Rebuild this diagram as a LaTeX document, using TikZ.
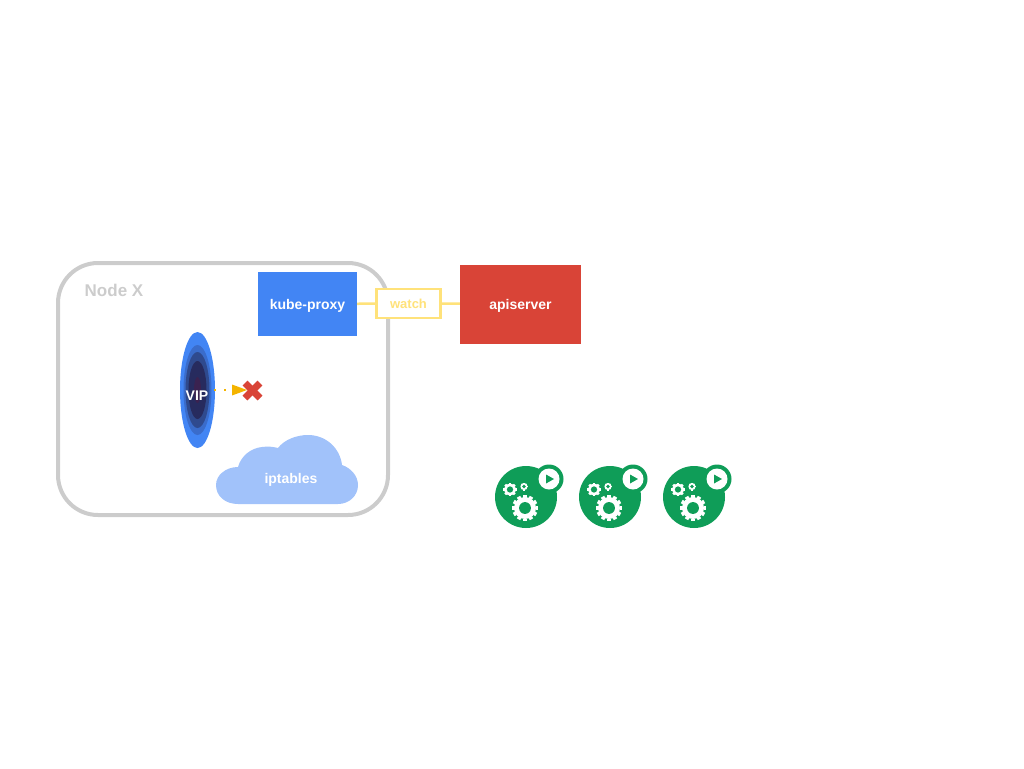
\documentclass[tikz,border=0pt]{standalone}
\usepackage{fontspec}
\setmainfont{Liberation Sans}
\usetikzlibrary{positioning}
\definecolor{kblue}{HTML}{4285F4}
\definecolor{kred}{HTML}{D94437}
\definecolor{kgreen}{HTML}{0F9D58}
\definecolor{kyellow}{HTML}{FFE27A}
\definecolor{kcloud}{HTML}{A1C2FA}
\definecolor{korange}{HTML}{F4B400}
\definecolor{kgray}{HTML}{CCCCCC}
\definecolor{ringa}{HTML}{3A6CCB}
\definecolor{ringb}{HTML}{2F4A8E}
\definecolor{ringc}{HTML}{272B5E}
\definecolor{ringd}{HTML}{3A2250}
\newcommand{\geartooth}[6]{%
    \fill[white] (#1,#2) circle (#3);
    \foreach \ang in {0,#6,...,359}{
        \draw[white,line width=#5] (#1,#2) ++(\ang:#3-0.5) -- ++(\ang:#4);
    }
    \fill[kgreen] (#1,#2) circle (#3*0.54);
}
\tikzset{label text/.style={text=white,font=\bfseries\fontsize{14}{14}\selectfont,inner sep=0pt,text height=10pt,text depth=0pt},
         box/.style={rectangle,fill=#1,label text},
         worker/.pic={
            \fill[kgreen] (0,0) circle (31);
            \fill[kgreen] (23,-18) circle (14.5);
            \fill[white] (23,-18) circle (10.5);
            \fill[kgreen] (20,-22.5) -- (28,-18) -- (20,-13.5) -- cycle;
            \geartooth{-1}{11}{11}{2.5}{3.8}{30}
            \geartooth{-16}{-7.5}{5.8}{1.5}{2.6}{45}
            \geartooth{-2}{-10.5}{3.6}{0.4}{1.2}{45}
         }
}
\begin{document}
\begin{tikzpicture}[x=1pt,y=-1pt]
\useasboundingbox (0,0) rectangle (1024,768);
% node outline
\draw[kgray,line width=4pt,rounded corners=40pt] (58,263) rectangle (388,515);
\node[text=kgray,font=\bfseries\fontsize{17}{17}\selectfont,inner sep=0pt,text height=12pt,text depth=0pt] (nodex) at (114,290) {Node X};
\node[box=kblue,minimum width=99pt,minimum height=64pt] (proxy) at (307.5,304) {kube-proxy};
\node[box=kred,minimum width=121pt,minimum height=79pt] (api) at (520.5,304) {apiserver};
\node[draw=kyellow,line width=2.5pt,fill=white,text=kyellow,minimum width=64pt,minimum height=29pt,inner sep=0pt,
      font=\bfseries\fontsize{13}{13}\selectfont,text height=9pt,text depth=0pt] (watch) at (408.5,303.5) {watch};
\draw[kyellow,line width=2.5pt] (proxy) -- (watch);
\draw[kyellow,line width=2.5pt] (watch) -- (api);
% the vip hole
\fill[kblue] (197.5,390) ellipse (17.5 and 58);
\fill[ringa] (197.5,390) ellipse (14 and 45);
\fill[ringb] (197.5,390) ellipse (12 and 38);
\fill[ringc] (197.5,390) ellipse (9 and 29);
\fill[ringd] (197.5,390) ellipse (3.5 and 13);
\node[label text] (vip) at (197,395) {VIP};
% broken route
\coordinate (tip) at (232,390);
\coordinate (start) at (214,390);
\draw[korange,line width=2pt,dash pattern=on 2pt off 8pt] (start) -- (tip);
\fill[korange] (tip) ++(0,-5.5) -- ++(15,5.5) -- ++(-15,5.5) -- cycle;
\draw[kred,line width=7pt] (245,383) -- (260,398);
\draw[kred,line width=7pt] (260,383) -- (245,398);
% cloud
\fill[kcloud] (238,504) .. controls (225,504) and (216,496) .. (216,485)
    .. controls (216,475) and (226,467) .. (238,467)
    .. controls (241,456) and (251,448) .. (262,447)
    .. controls (268,446) and (274,447) .. (278,448)
    .. controls (284,440) and (296,435) .. (308,435)
    .. controls (326,435) and (340,448) .. (342,465)
    .. controls (351,468) and (358,476) .. (358,485)
    .. controls (358,496) and (349,504) .. (338,504) -- cycle;
\node[label text] (iptables) at (291,478) {iptables};
% the pods
\foreach \x in {526,610,694}{
    \pic at (\x,497) {worker};
}
\end{tikzpicture}
\end{document}
